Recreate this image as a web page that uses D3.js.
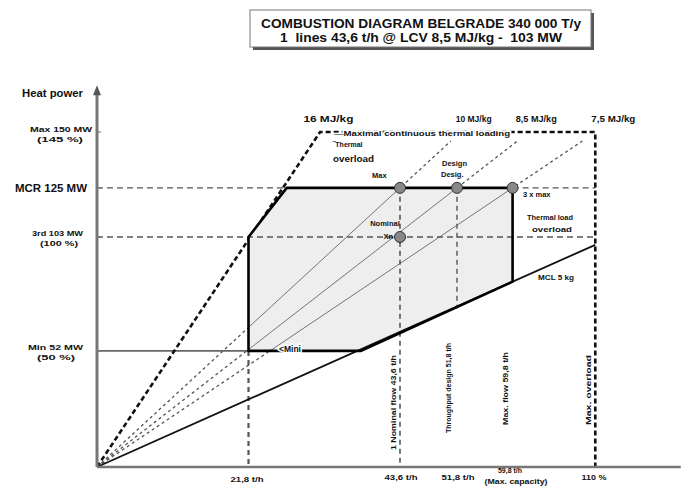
<!DOCTYPE html>
<html><head><meta charset="utf-8">
<script src="https://cdn.jsdelivr.net/npm/d3@7"></script>
<style>
html,body{margin:0;padding:0;background:#fff;}
text{font-family:"Liberation Sans",Arial,sans-serif;font-weight:bold;fill:#111;white-space:pre;}
</style></head>
<body><svg id="c" width="683" height="488"></svg>
<script>
// ---- data (flow in t/h, heat power in MW) ----
const titleLines = ["COMBUSTION DIAGRAM BELGRADE 340 000 T/y", "1  lines 43,6 t/h @ LCV 8,5 MJ/kg -  103 MW"];
const heatLevels = [150, 125, 103, 52];
const heatLabels = [["Max 150 MW", "(145 %)"], ["MCR 125 MW"], ["3rd 103 MW", "(100 %)"], ["Min 52 MW", "(50 %)"]];
const flowTicks = [21.8, 43.6, 51.8, 59.8, 71.7];
const flowLabels = [["21,8 t/h"], ["43,6 t/h"], ["51,8 t/h"], ["59,8 t/h", "(Max. capacity)"], ["110 %"]];
const flowVertLabels = ["1 Nominal flow 43,6 t/h", "Throughput design 51,8 t/h", "Max. flow 59,8 t/h", "Max. overload"];
const combustionArea = [[21.8, 52], [21.8, 103], [27.3, 125], [59.8, 125], [59.8, 83], [38, 52]];
const outerLimit = [[0, 0], [32.1, 150], [71.7, 150], [71.7, 0]];
const lowerLcvLine = [[0, 0], [71.7, 99.5]];
const rayPoints = [43.6, 51.8, 59.8];        // flows on the MCR line
const rayTopMW = 146;
const lcvLabels = ["16 MJ/kg", "10 MJ/kg", "8,5 MJ/kg", "7,5 MJ/kg"];
const lcvLabelFlow = [33.3, 54.2, 63.2, 74.3];
const points = [[43.6, 125], [51.8, 125], [59.8, 125], [43.6, 103]];

const svg = d3.select("#c");
const x = d3.scaleLinear().domain([0, 43.6]).range([97, 400]);
const y = d3.scaleLinear().domain([0, 103]).range([467, 237]);
const line = d3.line().x(d => x(d[0])).y(d => y(d[1]));
const fit = (sel, len) => sel.attr("textLength", len).attr("lengthAdjust", "spacingAndGlyphs");

// title box
const tb = svg.append("g");
tb.append("rect").attr("x", 253).attr("y", 13).attr("width", 341).attr("height", 37).attr("fill", "#555");
tb.append("rect").attr("x", 250).attr("y", 10).attr("width", 341).attr("height", 37).attr("fill", "#fff").attr("stroke", "#777").attr("stroke-width", 1);
const tlen = [320, 282];
tb.selectAll("text.t").data(titleLines).join("text").attr("class", "t")
  .attr("x", 421).attr("y", (d, i) => 28 + i * 14).attr("text-anchor", "middle")
  .attr("font-size", 13).text(d => d)
  .attr("textLength", (d, i) => tlen[i]).attr("lengthAdjust", "spacingAndGlyphs");

// guide lines
const g = svg.append("g");
g.append("path").attr("d", line([[0, 125], [27.3, 125]])).attr("stroke", "#555").attr("stroke-width", 1.3).attr("stroke-dasharray", "6,4").attr("fill", "none");
g.append("path").attr("d", line([[59.8, 125], [71.7, 125]])).attr("stroke", "#555").attr("stroke-width", 1.3).attr("stroke-dasharray", "6,4").attr("fill", "none");
g.append("path").attr("d", line([[0, 52], [21.8, 52]])).attr("stroke", "#666").attr("stroke-width", 1.6).attr("fill", "none");

rayPoints.forEach(f => {
  g.append("path").attr("d", line([[0, 0], [f * rayTopMW / 125, rayTopMW]]))
   .attr("stroke", "#555").attr("stroke-width", 1.3).attr("stroke-dasharray", "3,3").attr("fill", "none");
});

g.append("path").attr("d", line(outerLimit)).attr("stroke", "#111").attr("stroke-width", 2.6).attr("stroke-dasharray", "5,3").attr("fill", "none");

svg.append("clipPath").attr("id", "area").append("path").attr("d", line(combustionArea) + "Z");
svg.append("path").attr("d", line(combustionArea) + "Z").attr("fill", "#eeeeee").attr("stroke", "none");
const inside = svg.append("g").attr("clip-path", "url(#area)");
rayPoints.forEach(f => {
  inside.append("path").attr("d", line([[0, 0], [f, 125]])).attr("stroke", "#666").attr("stroke-width", 0.9).attr("fill", "none");
});
svg.append("path").attr("d", line([[0, 103], [71.7, 103]])).attr("stroke", "#555").attr("stroke-width", 1.3).attr("stroke-dasharray", "6,4").attr("fill", "none");
svg.append("path").attr("d", line([[21.8, 52], [21.8, 0]])).attr("stroke", "#555").attr("stroke-width", 2.2).attr("stroke-dasharray", "5,4").attr("fill", "none");
svg.append("path").attr("d", line([[43.6, 125], [43.6, 0]])).attr("stroke", "#555").attr("stroke-width", 1.6).attr("stroke-dasharray", "5,4").attr("fill", "none");
svg.append("path").attr("d", line([[51.8, 125], [51.8, 71]])).attr("stroke", "#555").attr("stroke-width", 1.4).attr("stroke-dasharray", "5,4").attr("fill", "none");

svg.append("path").attr("d", line(lowerLcvLine)).attr("stroke", "#111").attr("stroke-width", 1.8).attr("fill", "none");
svg.append("path").attr("d", line(combustionArea) + "Z").attr("fill", "none").attr("stroke", "#000").attr("stroke-width", 2.6).attr("stroke-linejoin", "round");

// axes
svg.append("path").attr("d", line([[0, 0], [84, 0]])).attr("stroke", "#777").attr("stroke-width", 2.5).attr("fill", "none");
svg.append("path").attr("d", line([[0, 0], [0, 168]])).attr("stroke", "#777").attr("stroke-width", 3).attr("fill", "none");
const arrowTop = y(171);
svg.append("path").attr("d", `M${x(0) - 4},${arrowTop + 10}L${x(0)},${arrowTop}L${x(0) + 4},${arrowTop + 10}Z`).attr("fill", "#555");
heatLevels.forEach(v => {
  svg.append("path").attr("d", line([[0, v], [0.6, v]])).attr("stroke", "#777").attr("stroke-width", 1);
});

svg.selectAll("circle.p").data(points).join("circle").attr("class", "p")
  .attr("cx", d => x(d[0])).attr("cy", d => y(d[1])).attr("r", 5.5)
  .attr("fill", "#888").attr("stroke", "#333").attr("stroke-width", 1);

// y labels
fit(svg.append("text").attr("x", 22).attr("y", 97).attr("font-size", 10).text("Heat power"), 61);
const ylSizes = [7.5, 10, 8, 7.5];
const ylLeft = [[30, 37], [15], [32, 40], [28, 37]];
const ylRight = [[92, 83], [87], [83, 78], [83, 75]];
heatLevels.forEach((v, i) => {
  const lab = heatLabels[i];
  lab.forEach((t, j) => {
    fit(svg.append("text").attr("x", ylLeft[i][j]).attr("y", y(v) + (lab.length > 1 ? (i === 0 ? 0 : -1) + j * 10 : 4))
      .attr("font-size", j ? 6.5 : ylSizes[i]).text(t), ylRight[i][j] - ylLeft[i][j]);
  });
});

// x labels
const xlPos = [[[247, 482, 33]], [[401, 480, 33]], [[458, 480, 33]], [[510, 473, 24], [516, 484, 63]], [[594, 480, 25]]];
flowTicks.forEach((f, i) => {
  flowLabels[i].forEach((t, j) => {
    const p = xlPos[i][j];
    fit(svg.append("text").attr("x", p[0] - p[2] / 2).attr("y", p[1]).attr("font-size", 7.5).text(t), p[2]);
  });
});
const vertPos = [[396, 450, 95], [451, 433, 90], [508, 425, 73], [591, 425, 70]];
flowVertLabels.forEach((t, i) => {
  fit(svg.append("text").attr("transform", `translate(${vertPos[i][0]},${vertPos[i][1]}) rotate(-90)`)
    .attr("font-size", 7).text(t), vertPos[i][2]);
});

const lcvLen = [50, 36, 41, 44];
lcvLabels.forEach((t, i) => {
  fit(svg.append("text").attr("x", x(lcvLabelFlow[i]) - lcvLen[i] / 2).attr("y", 122).attr("font-size", 8.5).text(t), lcvLen[i]);
});

const halo = sel => sel.attr("stroke", "#fff").attr("stroke-width", 3).attr("paint-order", "stroke");
fit(halo(svg.append("text").attr("x", 334).attr("y", 136).attr("font-size", 8).text("\u2014Maximal continuous thermal loading")), 176);
svg.append("text").attr("x", 333).attr("y", 147).attr("font-size", 7).text("\u203EThermal");
fit(svg.append("text").attr("x", 333).attr("y", 162).attr("font-size", 9).text("overload"), 41);
svg.append("text").attr("x", 372).attr("y", 178).attr("font-size", 7.5).text("Max");
svg.append("text").attr("x", 442).attr("y", 166).attr("font-size", 7.5).text("Design");
svg.append("text").attr("x", 441).attr("y", 177).attr("font-size", 7.5).text("Desig.");
svg.append("text").attr("x", 523).attr("y", 197).attr("font-size", 7.5).text("3 x max");
svg.append("text").attr("x", 385).attr("y", 226).attr("text-anchor", "middle").attr("font-size", 7.5).attr("font-weight", "normal").text("Nominal");
svg.append("text").attr("x", 393).attr("y", 239).attr("text-anchor", "end").attr("font-size", 7.5).text("Xn");
fit(svg.append("text").attr("x", 527).attr("y", 220).attr("font-size", 7).text("Thermal load"), 46);
fit(svg.append("text").attr("x", 532).attr("y", 232).attr("font-size", 7).text("overload"), 40);
fit(svg.append("text").attr("x", 538).attr("y", 280).attr("font-size", 8).text("MCL 5 kg"), 36);
halo(svg.append("text").attr("x", 279).attr("y", 352).attr("font-size", 8.5).text("<Mini"));
</script></body></html>
